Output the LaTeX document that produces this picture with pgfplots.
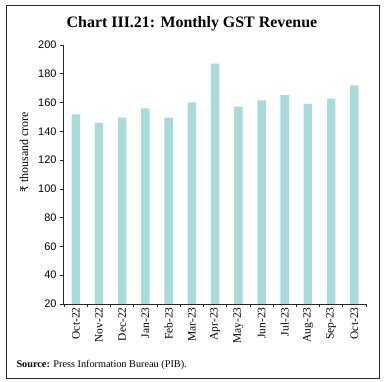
\documentclass[border=0pt]{standalone}
\usepackage{pgfplots}
\pgfplotsset{compat=1.18}
\usepackage{fontspec}
\setmainfont{Liberation Serif}
\newfontfamily\sansf{Liberation Sans}
\newfontfamily\rupee{DejaVu Sans}
\definecolor{barc}{RGB}{168,219,217}
\begin{document}
\begin{tikzpicture}[x=1bp,y=1bp]
\path[use as bounding box] (0,0) rectangle (385,382);
\draw[line width=1bp, black!85] (6,4) rectangle (379,376);
\node[font=\fontsize{16}{19}\selectfont\bfseries] at (192,358) {Chart III.21: Monthly GST Revenue};
\node[font=\fontsize{12}{14}\selectfont, rotate=90] at (24,230) {{\rupee\fontsize{10.5}{12}\selectfont ₹} thousand crore};
\node[font=\fontsize{10.3}{12}\selectfont, anchor=west] at (13,17) {\textbf{Source:} Press Information Bureau (PIB).};
\begin{axis}[at={(63bp,78bp)}, anchor=south west,
  width=303bp, height=259bp, scale only axis,
  xmin=-0.55, xmax=12.5, ymin=20, ymax=200,
  ytick={20,40,...,200},
  axis lines=left,
  axis line style={-, black!85, line width=0.7bp},
  tick style={black!85, line width=0.7bp},
  major tick length=3bp,
  tick align=outside,
  xtick={-0.5,0.5,...,12.5},
  xticklabels={{},{},{},{},{},{},{},{},{},{},{},{},{},{},{}},
  extra x ticks={0,1,2,3,4,5,6,7,8,9,10,11,12},
  extra x tick labels={Oct-22,Nov-22,Dec-22,Jan-23,Feb-23,Mar-23,Apr-23,May-23,Jun-23,Jul-23,Aug-23,Sep-23,Oct-23},
  extra x tick style={major tick length=0pt},
  x tick label style={rotate=90, anchor=east, font=\fontsize{11.5}{13}\selectfont},
  y tick label style={font=\sansf\fontsize{11}{13}\selectfont},
  /pgf/number format/assume math mode=true,
  clip=false,
]
\addplot[ybar, fill=barc, draw=none, bar width=8.5bp] coordinates {
(0,151.7) (1,145.9) (2,149.5) (3,155.9) (4,149.6) (5,160.1) (6,187.0)
(7,157.1) (8,161.5) (9,165.1) (10,159.1) (11,162.7) (12,172.0)};
\end{axis}
\end{tikzpicture}
\end{document}
